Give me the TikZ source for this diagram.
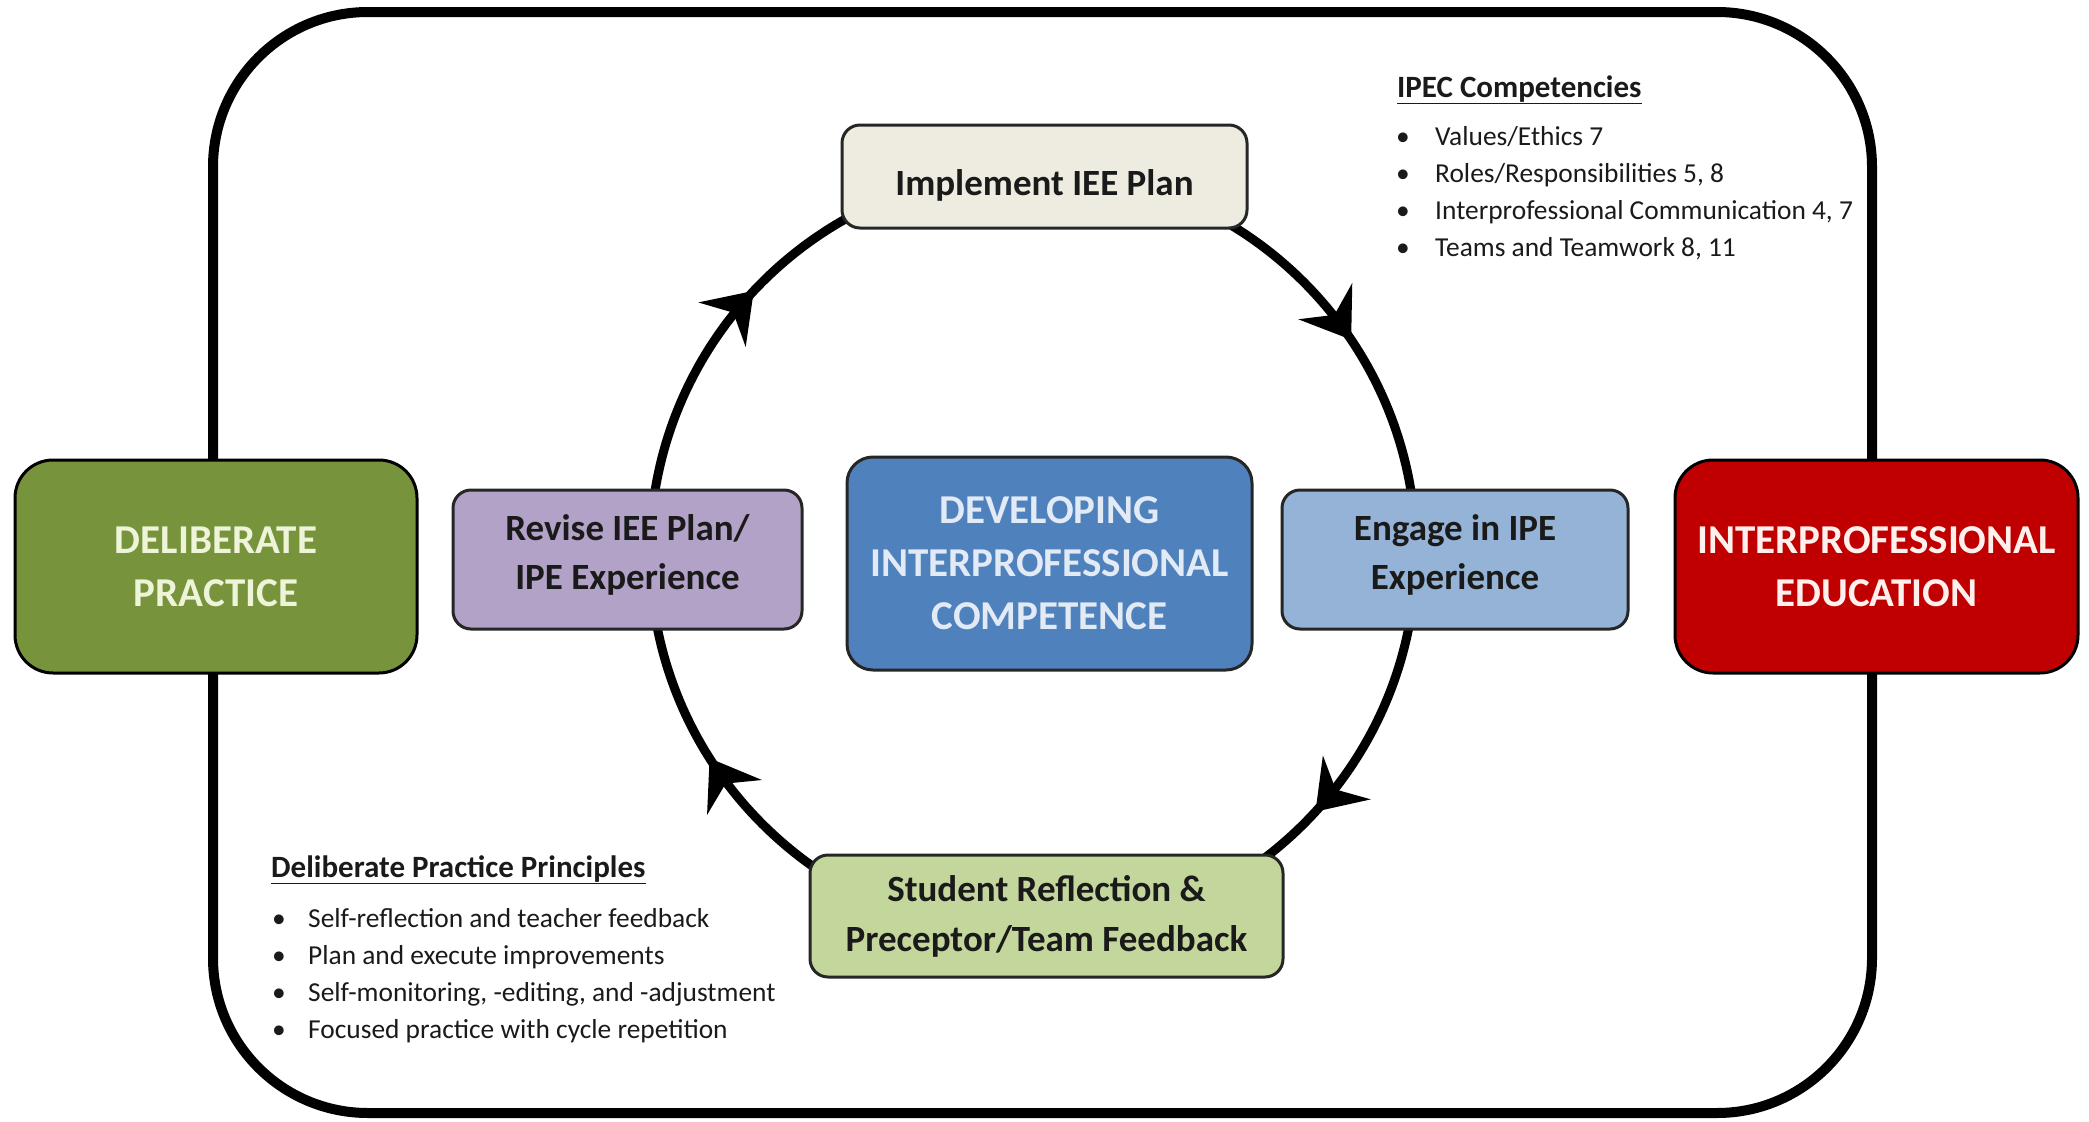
\documentclass[tikz,border=0pt]{standalone}
\usepackage{fontspec}
\setmainfont{Carlito}
\usetikzlibrary{arrows.meta,decorations.markings}
\definecolor{olivebox}{HTML}{77933C}
\definecolor{olivetext}{HTML}{EEF4D8}
\definecolor{redbox}{HTML}{C00000}
\definecolor{redtext}{HTML}{FFF0EE}
\definecolor{bluebox}{HTML}{4F81BD}
\definecolor{bluetext}{HTML}{E2EAF5}
\definecolor{purplebox}{HTML}{B3A2C7}
\definecolor{lightblue}{HTML}{95B3D7}
\definecolor{creambox}{HTML}{EEECE1}
\definecolor{lightolive}{HTML}{C3D69B}
\definecolor{edge}{HTML}{262626}
\definecolor{inktext}{HTML}{1A1A1A}
\tikzset{
  stepbox/.style={draw=edge, line width=3pt, rounded corners=18pt, align=center,
    text=inktext, inner sep=0pt, font=\bfseries\fontsize{37}{49}\selectfont},
  steptext/.style={align=center, text=inktext, inner sep=0pt, font=\bfseries\fontsize{37}{49}\selectfont},
  bigbox/.style={draw=black, line width=3pt, rounded corners=38pt, align=center,
    inner sep=0pt, font=\bfseries\fontsize{41}{53}\selectfont},
  listhead/.style={anchor=base west, inner sep=0pt, text=inktext, font=\bfseries\fontsize{31}{36}\selectfont},
  listitem/.style={anchor=base west, inner sep=0pt, text=inktext, font=\fontsize{27.4}{32}\selectfont},
  bulletmark/.style={anchor=base, inner sep=0pt, text=inktext, font=\fontsize{27.4}{32}\selectfont}
}
\begin{document}
\begin{tikzpicture}[x=1pt,y=-1pt]
\useasboundingbox (0,0) rectangle (2089,1122);
% outer frame
\draw[line width=10pt, rounded corners=155pt] (213,12) rectangle (1872,1113);
% cycle
\coordinate (cc) at (1033,553);
\draw[line width=9pt,
  postaction={decorate, decoration={markings,
    mark=at position 0.118 with {\arrow{Stealth[length=46pt,width=64pt,inset=16pt]}},
    mark=at position 0.410 with {\arrow{Stealth[length=46pt,width=64pt,inset=16pt]}},
    mark=at position 0.620 with {\arrow{Stealth[length=46pt,width=64pt,inset=16pt]}},
    mark=at position 0.906 with {\arrow{Stealth[length=46pt,width=64pt,inset=16pt]}}}}]
  (cc) circle[radius=383];
% side boxes
\node[bigbox, fill=olivebox, text=olivetext, minimum width=402pt, minimum height=213pt] (dp) at (216,566.5) {DELIBERATE\\PRACTICE};
\node[bigbox, fill=redbox, text=redtext, minimum width=403pt, minimum height=213pt] (ipe) at (1876.5,566.5) {INTERPROFESSIONAL\\EDUCATION};
% center
\node[bigbox, draw=edge, rounded corners=26pt, fill=bluebox, text=bluetext, minimum width=405pt, minimum height=213pt] (dev) at (1049.5,563.5) {DEVELOPING\\INTERPROFESSIONAL\\COMPETENCE};
% cycle steps
\node[stepbox, fill=creambox, minimum width=405pt, minimum height=103pt] (impl) at (1044.5,176.5) {};
\node[steptext] (implt) at (1044.5,185.5) {Implement IEE Plan};
\node[stepbox, fill=lightblue, minimum width=346pt, minimum height=139pt] (engage) at (1455,559.5) {};
\node[steptext] (engaget) at (1455,554.5) {Engage in IPE\\Experience};
\node[stepbox, fill=lightolive, minimum width=473pt, minimum height=122pt, font=\bfseries\fontsize{37}{50}\selectfont] (refl) at (1046.5,916) {Student Reflection \&\\Preceptor/Team Feedback};
\node[stepbox, fill=purplebox, minimum width=349pt, minimum height=139pt] (revise) at (627.5,559.5) {};
\node[steptext] (reviset) at (627.5,554.5) {Revise IEE Plan/\\IPE Experience};
% IPEC list
\node[listhead] (ipech) at (1397,97) {\underline{IPEC Competencies}};
\node[bulletmark] (ib1) at (1403,145) {•};
\node[listitem] (ii1) at (1435,145) {Values/Ethics 7};
\node[bulletmark] (ib2) at (1403,182) {•};
\node[listitem] (ii2) at (1435,182) {Roles/Responsibilities 5, 8};
\node[bulletmark] (ib3) at (1403,219) {•};
\node[listitem] (ii3) at (1435,219) {Interprofessional Communication 4, 7};
\node[bulletmark] (ib4) at (1403,256) {•};
\node[listitem] (ii4) at (1435,256) {Teams and Teamwork 8, 11};
% DP list
\node[listhead] (dph) at (271,877) {\underline{Deliberate Practice Principles}};
\node[bulletmark] (db1) at (279,927) {•};
\node[listitem] (di1) at (308,927) {Self-reflection and teacher feedback};
\node[bulletmark] (db2) at (279,964) {•};
\node[listitem] (di2) at (308,964) {Plan and execute improvements};
\node[bulletmark] (db3) at (279,1001) {•};
\node[listitem] (di3) at (308,1001) {Self-monitoring, -editing, and -adjustment};
\node[bulletmark] (db4) at (279,1038) {•};
\node[listitem] (di4) at (308,1038) {Focused practice with cycle repetition};
\end{tikzpicture}
\end{document}
